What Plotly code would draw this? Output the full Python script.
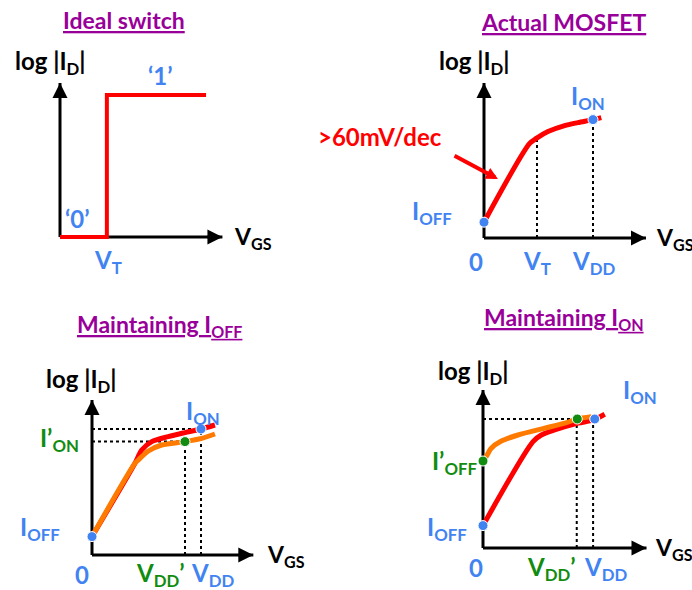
import plotly.graph_objects as go

W, H = 692, 590

# ---------------- data (VGS in units of VDD, log|ID| in decades) ----------------
# Panel 1: ideal switch
ideal_vgs = [0, 0.43, 0.43, 1.34]
ideal_logid = [0, 0, 7.1, 7.1]
ideal_vt = 0.43

# Panel 2: actual MOSFET
mos_vgs = [0, 0.419, 0.48, 0.587, 0.74, 0.862, 1.0, 1.076]
mos_logid = [0.79, 4.73, 4.98, 5.32, 5.62, 5.77, 5.92, 6.02]
mos_vt = 0.486
mos_vt_logid = 4.99
mos_vdd = 1.0
mos_ion = 5.92
mos_ioff = 0.79

# Panel 3: maintaining IOFF
p3_red_vgs = [0, 0.394, 0.456, 0.548, 0.70, 0.853, 1.0, 1.128]
p3_red_logid = [0.92, 4.585, 5.25, 5.67, 5.92, 6.12, 6.3, 6.5]
p3_org_vgs = [0, 0.394, 0.425, 0.517, 0.639, 0.853, 1.006, 1.128]
p3_org_logid = [0.92, 4.585, 4.75, 5.2, 5.5, 5.67, 5.83, 6.05]
p3_vdd, p3_ion = 1.0, 6.3
p3_vddp, p3_ionp = 0.853, 5.67
p3_ioff = 0.92

# Panel 4: maintaining ION
p4_red_vgs = [0, 0.459, 0.535, 0.658, 0.872, 1.009, 1.117]
p4_red_logid = [1.12, 5.32, 5.65, 5.9, 6.24, 6.4, 6.69]
p4_org_vgs = [0, 0.021, 0.076, 0.168, 0.321, 0.566, 0.75, 0.865, 0.994]
p4_org_logid = [4.35, 4.49, 4.99, 5.35, 5.65, 5.99, 6.24, 6.45, 6.57]
p4_vdd, p4_vddp, p4_ion = 1.01, 0.86, 6.45
p4_ioff, p4_ioffp = 1.12, 4.35

# ---------------- layout constants ----------------
SX, SY = 109, 20  # px per unit
panels = [
    dict(ox=60, oy=237, xr=[-0.5, 2.6], yr=[-2, 11.5], xlen=1.49, ylen=7.7),
    dict(ox=484, oy=238, xr=[-1.6, 1.9], yr=[-2, 11.5], xlen=1.486, ylen=7.75),
    dict(ox=92, oy=555, xr=[-0.8, 2.3], yr=[-1.7, 12.5], xlen=1.48, ylen=7.75),
    dict(ox=483, oy=548, xr=[-1.0, 1.9], yr=[-2, 12.5], xlen=1.50, ylen=7.9),
]

RED = "#ff0000"
ORANGE = "#ff7a00"
BLUE = "#4283f2"
GREEN = "#118c11"
PURPLE = "#990099"
FONT = "Lato"
LS = 24   # label size
TS = 23   # title size

fig = go.Figure()
layout = dict(width=W, height=H, margin=dict(l=0, r=0, t=0, b=0),
              paper_bgcolor="white", plot_bgcolor="white", showlegend=False)
annotations = []

def refs(i):
    return ("x" if i == 0 else f"x{i+1}"), ("y" if i == 0 else f"y{i+1}")

for i, p in enumerate(panels):
    xd = [(p["ox"] + p["xr"][0] * SX) / W, (p["ox"] + p["xr"][1] * SX) / W]
    yd = [1 - (p["oy"] - p["yr"][0] * SY) / H, 1 - (p["oy"] - p["yr"][1] * SY) / H]
    xa = "xaxis" if i == 0 else f"xaxis{i+1}"
    ya = "yaxis" if i == 0 else f"yaxis{i+1}"
    xr_, yr_ = refs(i)
    layout[xa] = dict(domain=xd, range=p["xr"], visible=False, anchor=yr_, fixedrange=True)
    layout[ya] = dict(domain=yd, range=p["yr"], visible=False, anchor=xr_, fixedrange=True)

def line(i, xs, ys, color, width, dash=None):
    xr_, yr_ = refs(i)
    fig.add_trace(go.Scatter(x=xs, y=ys, mode="lines", xaxis=xr_, yaxis=yr_,
                             line=dict(color=color, width=width, dash=dash),
                             hoverinfo="skip", cliponaxis=False))

def curve(i, xs, ys, color, width=5):
    xr_, yr_ = refs(i)
    fig.add_trace(go.Scatter(x=xs, y=ys, mode="lines", xaxis=xr_, yaxis=yr_,
                             line=dict(color=color, width=width, shape="spline", smoothing=0.8),
                             hoverinfo="skip", cliponaxis=False))

def dots(i, xs, ys, color):
    xr_, yr_ = refs(i)
    fig.add_trace(go.Scatter(x=xs, y=ys, mode="markers", xaxis=xr_, yaxis=yr_,
                             marker=dict(color=color, size=10, line=dict(color="white", width=1)),
                             hoverinfo="skip", cliponaxis=False))

def text(i, x, y, s, color, size=LS, xanchor="center", under=False):
    xr_, yr_ = refs(i)
    f = dict(family=FONT, size=size, color=color, weight="bold")
    if under:
        s = "<u>" + s + "</u>"
    annotations.append(dict(x=x, y=y, xref=xr_, yref=yr_, text=s, showarrow=False,
                            font=f, xanchor=xanchor, yanchor="middle"))

def arrow(i, x0, y0, x1, y1, color="black", width=3, size=1.0):
    xr_, yr_ = refs(i)
    annotations.append(dict(x=x1, y=y1, ax=x0, ay=y0, xref=xr_, yref=yr_, axref=xr_, ayref=yr_,
                            text="", showarrow=True, arrowhead=2, arrowsize=size,
                            arrowwidth=width, arrowcolor=color, standoff=0, startstandoff=0))

# axes (shafts + arrowheads)
for i, p in enumerate(panels):
    line(i, [0, p["xlen"]], [0, 0], "black", 3)
    line(i, [0, 0], [0, p["ylen"]], "black", 3)
    arrow(i, p["xlen"] - 0.15, 0, p["xlen"], 0)
    arrow(i, 0, p["ylen"] - 0.8, 0, p["ylen"])

# ---- Panel 1
line(0, ideal_vgs, ideal_logid, RED, 4)
text(0, 0.59, 10.85, "Ideal switch", PURPLE, TS, under=True)
text(0, -0.09, 8.75, "log |I<sub>D</sub>|", "black")
text(0, 0.92, 8.1, "‘1’", BLUE)
text(0, 0.16, 0.95, "‘0’", BLUE)
text(0, ideal_vt + 0.01, -1.2, "V<sub>T</sub>", BLUE)
text(0, 1.58, 0.0, "V<sub>GS</sub>", "black", 23, xanchor="left")

# ---- Panel 2
line(1, [mos_vt, mos_vt], [0, mos_vt_logid], "black", 2, "dot")
line(1, [mos_vdd, mos_vdd], [0, mos_ion], "black", 2, "dot")
curve(1, mos_vgs, mos_logid, RED)
dots(1, [0, mos_vdd], [mos_ioff, mos_ion], BLUE)
text(1, 0.725, 10.8, "Actual MOSFET", PURPLE, TS, under=True)
text(1, -0.09, 8.8, "log |I<sub>D</sub>|", "black")
text(1, 0.95, 7.05, "I<sub>ON</sub>", BLUE)
text(1, -0.477, 1.3, "I<sub>OFF</sub>", BLUE)
text(1, -0.073, -1.15, "0", BLUE)
text(1, mos_vt, -1.2, "V<sub>T</sub>", BLUE)
text(1, mos_vdd, -1.2, "V<sub>DD</sub>", BLUE)
text(1, 1.555, 0.0, "V<sub>GS</sub>", "black", 23, xanchor="left")
text(1, -0.95, 5.1, "&gt;60mV/dec", RED)
arrow(1, -0.284, 4.15, 0.128, 2.95, RED, 4, 0.6)

# ---- Panel 3
line(2, [0, p3_vdd], [p3_ion, p3_ion], "black", 2, "dot")
line(2, [0, p3_vddp], [p3_ionp, p3_ionp], "black", 2, "dot")
line(2, [p3_vdd, p3_vdd], [0, p3_ion], "black", 2, "dot")
line(2, [p3_vddp, p3_vddp], [0, p3_ionp], "black", 2, "dot")
curve(2, p3_red_vgs, p3_red_logid, RED)
curve(2, p3_org_vgs, p3_org_logid, ORANGE)
dots(2, [0, p3_vdd], [p3_ioff, p3_ion], BLUE)
dots(2, [p3_vddp], [p3_ionp], GREEN)
text(2, 0.62, 11.5, "Maintaining I<sub>OFF</sub>", PURPLE, TS, under=True)
text(2, -0.10, 8.75, "log |I<sub>D</sub>|", "black")
text(2, 1.014, 7.12, "I<sub>ON</sub>", BLUE)
text(2, -0.30, 5.8, "I’<sub>ON</sub>", GREEN)
text(2, -0.477, 1.35, "I<sub>OFF</sub>", BLUE)
text(2, -0.095, -0.95, "0", BLUE)
text(2, 0.624, -0.95, "V<sub>DD</sub>’", GREEN)
text(2, 1.105, -0.95, "V<sub>DD</sub>", BLUE)
text(2, 1.59, 0.0, "V<sub>GS</sub>", "black", 23, xanchor="left")

# ---- Panel 4
line(3, [0, p4_vdd], [p4_ion, p4_ion], "black", 2, "dot")
line(3, [p4_vddp, p4_vddp], [0, p4_ion], "black", 2, "dot")
line(3, [p4_vdd, p4_vdd], [0, p4_ion], "black", 2, "dot")
curve(3, p4_red_vgs, p4_red_logid, RED)
curve(3, p4_org_vgs, p4_org_logid, ORANGE)
dots(3, [0, p4_vdd + 0.015], [p4_ioff, p4_ion], BLUE)
dots(3, [0, p4_vddp + 0.005], [p4_ioffp, p4_ion], GREEN)
text(3, 0.745, 11.5, "Maintaining I<sub>ON</sub>", PURPLE, TS, under=True)
text(3, -0.083, 8.8, "log |I<sub>D</sub>|", "black")
text(3, 1.44, 7.85, "I<sub>ON</sub>", BLUE)
text(3, -0.257, 4.3, "I’<sub>OFF</sub>", GREEN)
text(3, -0.333, 1.0, "I<sub>OFF</sub>", BLUE)
text(3, -0.064, -0.95, "0", BLUE)
text(3, 0.63, -1.0, "V<sub>DD</sub>’", GREEN)
text(3, 1.12, -1.0, "V<sub>DD</sub>", BLUE)
text(3, 1.56, 0.0, "V<sub>GS</sub>", "black", 23, xanchor="left")

layout["annotations"] = annotations
fig.update_layout(**layout)
fig.write_html("out.html")
